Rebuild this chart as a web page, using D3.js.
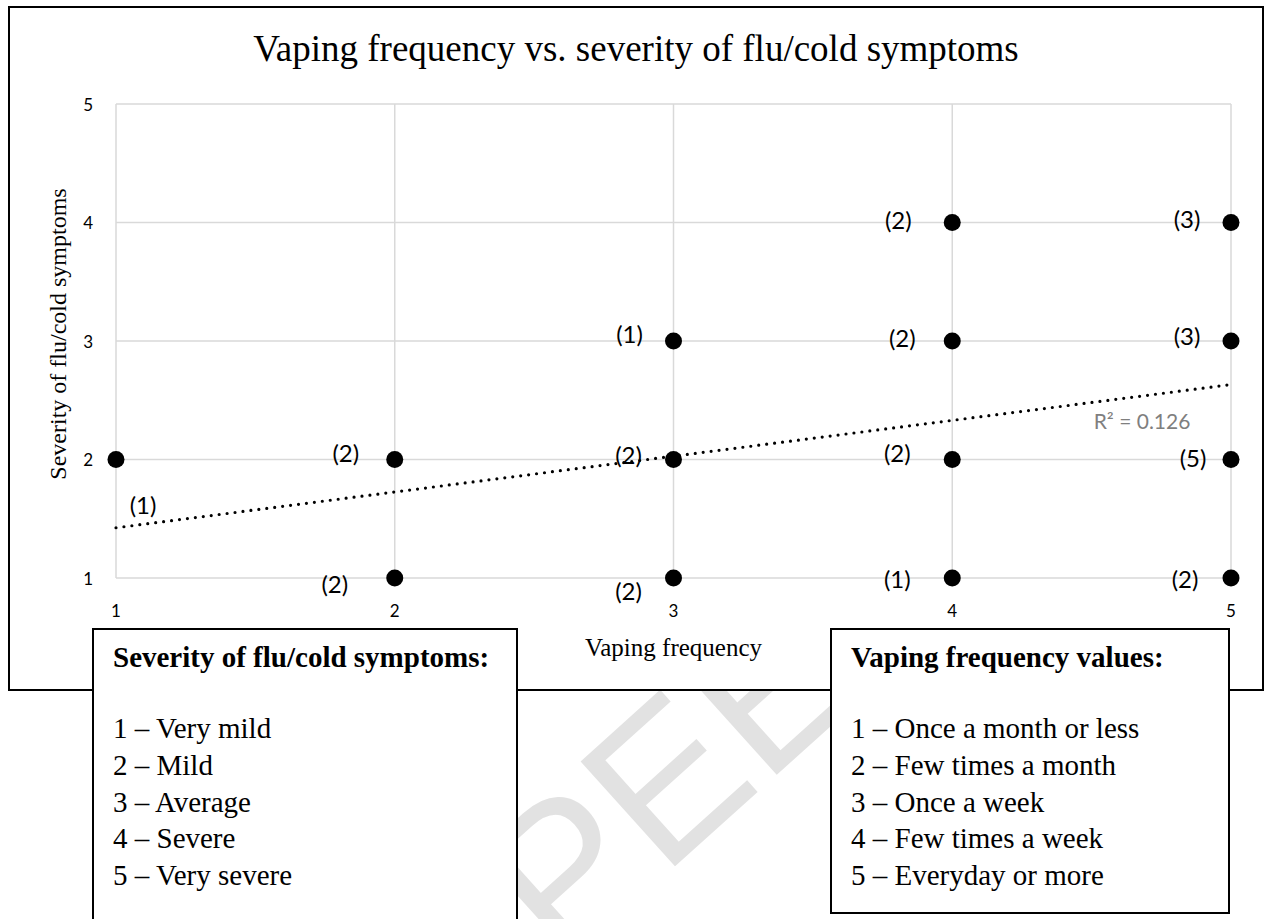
<!DOCTYPE html>
<html>
<head>
<meta charset="utf-8">
<style>
	body { margin: 0; background: #fff; }
	svg { display: block; }
	.grid line { stroke: #d9d9d9; stroke-width: 1.5; }
	.tick-label { font-family: Lato, "Open Sans", sans-serif; font-size: 17px; fill: #000; }
	.count { font-family: Lato, "Open Sans", sans-serif; font-size: 24px; fill: #000; }
	.serif { font-family: "Liberation Serif", "Times New Roman", serif; fill: #000; }
</style>
</head>
<body>
<script src="https://cdnjs.cloudflare.com/ajax/libs/d3/7.8.5/d3.min.js"></script>
<script>

	// responses: vaping frequency (x), symptom severity (y), number of people at each spot
	var freq     = [1, 2, 2, 3, 3, 3, 4, 4, 4, 4, 5, 5, 5, 5];
	var severity = [2, 2, 1, 3, 2, 1, 4, 3, 2, 1, 4, 3, 2, 1];
	var counts   = [1, 2, 2, 1, 2, 2, 2, 2, 2, 1, 3, 3, 5, 2];

	var tickValues = [1, 2, 3, 4, 5];
	var severityKey = ["1 – Very mild", "2 – Mild", "3 – Average", "4 – Severe", "5 – Very severe"];
	var freqKey = ["1 – Once a month or less", "2 – Few times a month", "3 – Once a week", "4 – Few times a week", "5 – Everyday or more"];
	var rSquared = "R² = 0.126";

	// where each "(n)" label sits relative to its dot (pixels)
	var labelShift = [[27, 45], [-49, -7], [-60, 5], [-44, -8], [-45, -5], [-45, 12], [-54, -3],
		[-50, -4], [-55, -7], [-55, 0], [-44, -4], [-44, -6], [-38, -2], [-46, 0]];

	var W = 1267, H = 919;

	var svg = d3.select("body").append("svg")
		.attr("width", W)
		.attr("height", H);

	// faint watermark behind everything
	svg.append("text")
		.attr("transform", "translate(561,969) rotate(-42)")
		.attr("font-family", "Liberation Sans, sans-serif")
		.attr("font-size", 205)
		.attr("fill", "#e2e2e2")
		.text("PEER");

	// chart frame
	svg.append("rect")
		.attr("x", 9).attr("y", 7)
		.attr("width", 1254).attr("height", 683)
		.attr("fill", "#fff")
		.attr("stroke", "#000")
		.attr("stroke-width", 2);

	svg.append("text")
		.attr("class", "serif")
		.attr("x", 636).attr("y", 61)
		.attr("text-anchor", "middle")
		.attr("font-size", 37)
		.text("Vaping frequency vs. severity of flu/cold symptoms");

	var x = d3.scaleLinear().domain([1, 5]).range([116, 1231]);
	var y = d3.scaleLinear().domain([1, 5]).range([578, 104]);

	var grid = svg.append("g").attr("class", "grid");
	grid.selectAll(".v").data(tickValues).enter().append("line")
		.attr("x1", function(d) { return x(d); })
		.attr("x2", function(d) { return x(d); })
		.attr("y1", y(5)).attr("y2", y(1));
	grid.selectAll(".h").data(tickValues).enter().append("line")
		.attr("y1", function(d) { return y(d); })
		.attr("y2", function(d) { return y(d); })
		.attr("x1", x(1)).attr("x2", x(5));

	// tick labels
	svg.selectAll(".ytick").data(tickValues).enter().append("text")
		.attr("class", "tick-label")
		.attr("x", x(1) - 23)
		.attr("y", function(d) { return y(d); })
		.attr("text-anchor", "end")
		.attr("dominant-baseline", "central")
		.text(function(d) { return d; });

	svg.selectAll(".xtick").data(tickValues).enter().append("text")
		.attr("class", "tick-label")
		.attr("x", function(d) { return x(d); })
		.attr("y", y(1) + 32)
		.attr("text-anchor", "middle")
		.attr("dominant-baseline", "central")
		.text(function(d) { return d; });

	// axis titles
	svg.append("text")
		.attr("class", "serif")
		.attr("transform", "translate(66,334) rotate(-90)")
		.attr("text-anchor", "middle")
		.attr("font-size", 24)
		.text("Severity of flu/cold symptoms");

	svg.append("text")
		.attr("class", "serif")
		.attr("x", (x(1) + x(5)) / 2).attr("y", 656)
		.attr("text-anchor", "middle")
		.attr("font-size", 25)
		.text("Vaping frequency");

	// linear trendline, least squares over all respondents
	var n = 0, sx = 0, sy = 0, sxy = 0, sxx = 0;
	freq.forEach(function(f, i) {
		var w = counts[i], s = severity[i];
		n += w; sx += w * f; sy += w * s; sxy += w * f * s; sxx += w * f * f;
	});
	var slope = (sxy - sx * sy / n) / (sxx - sx * sx / n);
	var icpt = sy / n - slope * sx / n;

	var trend = d3.line()
		.x(function(d) { return x(d); })
		.y(function(d) { return y(icpt + slope * d); });

	svg.append("path")
		.datum([1, 5])
		.attr("fill", "none")
		.attr("stroke", "#000")
		.attr("stroke-width", 3.2)
		.attr("stroke-linecap", "round")
		.attr("stroke-dasharray", "0 8")
		.attr("d", trend);

	svg.append("text")
		.attr("x", x(4.5) + 2).attr("y", y(icpt + slope * 4.5) + 18)
		.attr("font-family", "Lato, sans-serif")
		.attr("font-size", 21)
		.attr("fill", "#7f7f7f")
		.attr("dominant-baseline", "central")
		.text(rSquared);

	// dots and counts
	var pts = freq.map(function(f, i) { return { f: f, s: severity[i], c: counts[i], i: i }; });

	svg.selectAll(".dot").data(pts).enter().append("circle")
		.attr("class", "dot")
		.attr("r", 8.5)
		.attr("fill", "#000")
		.attr("cx", function(d) { return x(d.f); })
		.attr("cy", function(d) { return y(d.s); });

	svg.selectAll(".count").data(pts).enter().append("text")
		.attr("class", "count")
		.attr("text-anchor", "middle")
		.attr("dominant-baseline", "central")
		.attr("x", function(d) { return x(d.f) + labelShift[d.i][0]; })
		.attr("y", function(d) { return y(d.s) + labelShift[d.i][1]; })
		.text(function(d) { return "(" + d.c + ")"; });

	// key boxes
	function keyBox(bx, by, bw, bh, title, items) {
		var g = svg.append("g");
		g.append("rect")
			.attr("x", bx).attr("y", by)
			.attr("width", bw).attr("height", bh)
			.attr("fill", "#fff")
			.attr("stroke", "#000")
			.attr("stroke-width", 2);
		g.append("text")
			.attr("class", "serif")
			.attr("x", bx + 20).attr("y", by + 38)
			.attr("font-size", 29)
			.attr("font-weight", "bold")
			.text(title);
		g.selectAll(".item").data(items).enter().append("text")
			.attr("class", "serif")
			.attr("x", bx + 20)
			.attr("y", function(d, i) { return by + 109 + i * 36.75; })
			.attr("font-size", 29)
			.text(function(d) { return d; });
	}

	keyBox(93, 629, 424, 310, "Severity of flu/cold symptoms:", severityKey);
	keyBox(831, 629, 398, 284, "Vaping frequency values:", freqKey);

</script>
</body>
</html>
